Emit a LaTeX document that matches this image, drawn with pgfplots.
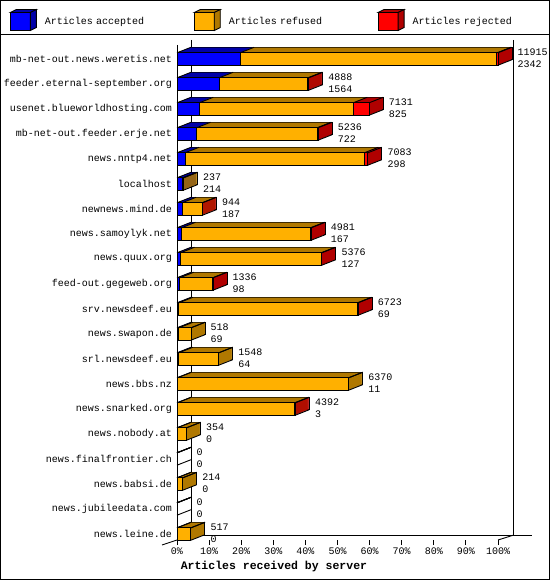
\documentclass[border=0pt]{standalone}
\usepackage{fontspec}
\setmainfont{Liberation Mono}
\usepackage{pgfplots}
\usepackage{pgfplotstable}
\pgfplotsset{compat=1.18}

\definecolor{accF}{RGB}{0,0,255}
\definecolor{accD}{RGB}{0,0,168}
\definecolor{refF}{RGB}{255,176,0}
\definecolor{refD}{RGB}{176,120,0}
\definecolor{rejF}{RGB}{255,0,0}
\definecolor{rejD}{RGB}{176,0,0}

% articles per server: accepted, refused, rejected, total
\pgfplotstableread{
name acc ref rej tot
mb-net-out.news.weretis.net 2342 9533 40 11915
feeder.eternal-september.org 1564 3294 30 4888
usenet.blueworldhosting.com 825 5716 590 7131
mb-net-out.feeder.erje.net 722 4474 40 5236
news.nntp4.net 298 6655 130 7083
localhost 214 23 0 237
newnews.mind.de 187 742 15 944
news.samoylyk.net 167 4784 30 4981
news.quux.org 127 5219 30 5376
feed-out.gegeweb.org 98 1223 15 1336
srv.newsdeef.eu 69 6624 30 6723
news.swapon.de 69 449 0 518
srl.newsdeef.eu 64 1484 0 1548
news.bbs.nz 11 6359 0 6370
news.snarked.org 3 4364 25 4392
news.nobody.at 0 354 0 354
news.finalfrontier.ch 0 0 0 0
news.babsi.de 0 214 0 214
news.jubileedata.com 0 0 0 0
news.leine.de 0 517 0 517
}\servers

\newcommand\num[1]{\pgfmathprintnumber[assume math mode=true, fixed, precision=0, 1000 sep={}]{#1}}

\pgfplotsset{
  base/.style={
    width=321pt, height=493.5pt, scale only axis,
    at={(177pt,40pt)}, anchor=south west,
    xmin=0, xmax=11915, ymin=-0.5, ymax=19.24, y dir=reverse,
    clip=false, scaled x ticks=false,
  },
  ext/.style={base, hide axis, xbar stacked, bar width=12.4pt, bar shift=0pt},
  cube/.style 2 args={legend image code/.code={
    \draw[line width=0.9pt, fill=#1] (0pt,-9pt) rectangle (20pt,9pt);
    \draw[line width=0.9pt, fill=#2] (0pt,9pt) -- (6pt,12pt) -- (26pt,12pt) -- (20pt,9pt) -- cycle;
    \draw[line width=0.9pt, fill=#2] (20pt,9pt) -- (26pt,12pt) -- (26pt,-6pt) -- (20pt,-9pt) -- cycle;
  }},
  edge/.style={black, line width=0.9pt, quiver={u=519.7, v=-0.22}},
}

% one 1pt layer of the bar depth, in the dark face colours; the last
% two plots add one pixel in the colour of the side face at the end
\newcommand\extfill[2]{%
  \begin{axis}[ext, xshift=#1, yshift=#2]
    \addplot[fill=accD, draw=none] table[x=acc, y expr=\coordindex] {\servers};
    \addplot[fill=refD, draw=none] table[x=ref, y expr=\coordindex] {\servers};
    \addplot[fill=rejD, draw=none] table[x=rej, y expr=\coordindex] {\servers};
    \addplot[fill=rejD, draw=none] table[x expr={37.1*(\thisrow{rej}>0.5)}, y expr=\coordindex] {\servers};
    \addplot[fill=refD, draw=none] table[x expr={37.1*(\thisrow{rej}<0.5)*(\thisrow{tot}>0.5)}, y expr=\coordindex] {\servers};
  \end{axis}}
% outline of the back face
\newcommand\extline[2]{%
  \begin{axis}[ext, xshift=#1, yshift=#2]
    \addplot[fill=none, draw=black, line width=0.9pt] table[x expr={\thisrow{tot}+37.1*(\thisrow{tot}>0.5)}, y expr=\coordindex] {\servers};
  \end{axis}}

\begin{document}
\begin{tikzpicture}
\useasboundingbox (0,0) rectangle (550pt,580pt);

% walls and floor
\begin{scope}[line width=0.9pt]
  \draw (177pt,535pt) -- (177pt,40pt);
  \draw (162pt,35pt) -- (191pt,44.7pt);
  \draw (191pt,540pt) -- (191pt,44.7pt) -- (532pt,44.7pt);
  \draw (513pt,540pt) -- (513pt,44.7pt);
  \draw (498pt,40pt) -- (513pt,44.7pt);
\end{scope}

\extfill{13pt}{5.5pt}
\extline{13pt}{5.5pt}
\foreach \k in {13,12,...,1}{
  \pgfmathsetmacro\dy{5.5*\k/14}
  \pgfmathsetmacro\dx{\k-1}
  \extfill{\dx pt}{\dy pt}
}

\begin{axis}[base, xbar stacked, bar width=12.4pt, bar shift=0pt,
  axis line style={draw=none},
  tick align=outside, major tick length=5pt,
  tick style={black, line width=0.9pt},
  xtick={0,1191.5,2383,3574.5,4766,5957.5,7149,8340.5,9532,10723.5,11915},
  xticklabels={0\%,10\%,20\%,30\%,40\%,50\%,60\%,70\%,80\%,90\%,100\%},
  xtick pos=bottom,
  xticklabel style={inner sep=0pt, yshift=-3pt},
  ytick={0,...,19},
  yticklabels from table={\servers}{name},
  ytick style={draw=none},
  yticklabel style={inner sep=0pt},
  xlabel={Articles received by server},
  xlabel style={at={(axis description cs:0.302,-0.0547)}, anchor=center,
    font=\bfseries\fontsize{11.5}{13}\selectfont},
  legend columns=3,
  legend cell align=left,
  legend style={draw=none, fill=none, inner sep=0pt, outer sep=0pt,
    at={(-0.5203,1.0537)}, anchor=west,
    /tikz/every odd column/.style={column sep=4.7pt},
    /tikz/every even column/.style={column sep=5.6pt},
    nodes={text width=140pt, inner sep=3.33pt}},
]
  \addplot[fill=accF, draw=black, line width=0.9pt, cube={accF}{accD}] table[x=acc, y expr=\coordindex] {\servers};
  \addplot[fill=refF, draw=black, line width=0.9pt, cube={refF}{refD}] table[x=ref, y expr=\coordindex] {\servers};
  \addplot[fill=rejF, draw=black, line width=0.9pt, cube={rejF}{rejD}] table[x=rej, y expr=\coordindex] {\servers};
  \legend{Articles accepted, Articles refused, Articles rejected}
\end{axis}

\begin{axis}[base, hide axis]
  \addplot[edge] table[x expr=0, y expr=\coordindex-0.248] {\servers};
  \addplot[edge] table[x=acc, y expr=\coordindex-0.248] {\servers};
  \addplot[edge] table[x expr=\thisrow{acc}+\thisrow{ref}, y expr=\coordindex-0.248] {\servers};
  \addplot[edge] table[x=tot, y expr=\coordindex-0.248] {\servers};
  \addplot[edge] table[x=tot, y expr=\coordindex+0.248] {\servers};
  \addplot[draw=none, mark=none, point meta=\thisrow{tot},
    visualization depends on={\thisrow{tot} \as \totv},
    visualization depends on={\thisrow{acc} \as \accv},
    nodes near coords={\num{\totv}\\\num{\accv}},
    every node near coord/.append style={anchor=west, xshift=19.5pt, yshift=0.5pt,
      align=left, inner sep=0pt, font=\fontsize{10}{12}\selectfont}]
    table[x=tot, y expr=\coordindex] {\servers};
\end{axis}

\draw[line width=1pt] (0.5pt,0.5pt) rectangle (549.5pt,579.5pt);
\draw[line width=1pt] (0pt,545.5pt) -- (550pt,545.5pt);
\end{tikzpicture}
\end{document}
